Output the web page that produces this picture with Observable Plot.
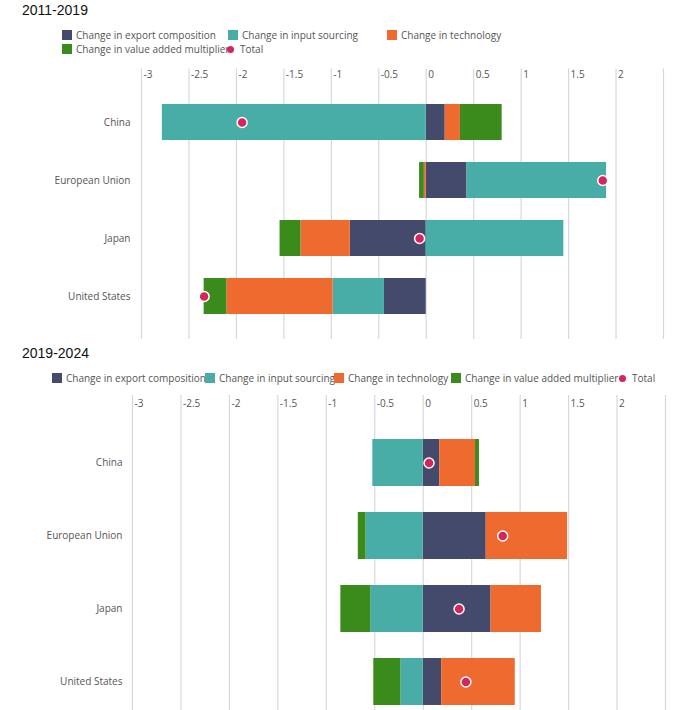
<!DOCTYPE html>
<html><head><meta charset="utf-8">
<script src="https://cdn.jsdelivr.net/npm/d3@7"></script>
<script src="https://cdn.jsdelivr.net/npm/@observablehq/plot@0.6"></script>
<style>
body{margin:0;overflow:hidden;font-family:"Open Sans",Arial,sans-serif;background:#fff;width:693px;height:710px;position:relative}
.title{position:absolute;left:22px;font:14px Arial,"Liberation Sans",sans-serif;color:#111}
.leg{position:absolute;font-size:10px;color:#555;white-space:nowrap}
.leg span.it{position:absolute;display:flex;align-items:center}
.sw{display:inline-block;width:10px;height:10px;margin-right:4px}
.dot{display:inline-block;width:7px;height:7px;border-radius:50%;background:#d6245c;margin:0 6px 0 2px}
.chart{position:absolute;left:0}
</style></head><body>
<div class="title" style="top:2px">2011-2019</div>
<div class="leg" id="leg1" style="top:28px;left:0"></div>
<div class="chart" id="c1" style="top:62px"></div>
<div class="title" style="top:345px">2019-2024</div>
<div class="leg" id="leg2" style="top:371px;left:0"></div>
<div class="chart" id="c2" style="top:388px"></div>
<script>
const countries = ["China","European Union","Japan","United States"];
const components = ["Change in export composition","Change in input sourcing","Change in technology","Change in value added multiplier"];
const colors = ["#434a6b","#48ada6","#ef6a2f","#3a8a1c"];
const totalColor = "#d6245c";
const ticks = [-3,-2.5,-2,-1.5,-1,-0.5,0,0.5,1,1.5,2];
const grid = [...ticks, 2.5];
// values per country in component order
const p1 = {
  export: [0.20, 0.43, -0.80, -0.44],
  input: [-2.78, 1.47, 1.45, -0.54],
  tech: [0.16, -0.02, -0.52, -1.12],
  va: [0.44, -0.05, -0.22, -0.24],
  total: [-1.94, 1.86, -0.07, -2.34]
};
const p2 = {
  export: [0.17, 0.65, 0.70, 0.19],
  input: [-0.52, -0.59, -0.54, -0.23],
  tech: [0.37, 0.84, 0.52, 0.76],
  va: [0.04, -0.08, -0.31, -0.28],
  total: [0.06, 0.82, 0.37, 0.44]
};
function rows(p){
  const out=[];
  const keys=["export","input","tech","va"];
  countries.forEach((c,i)=>keys.forEach((k,j)=>out.push({country:c,comp:components[j],value:p[k][i]})));
  return out;
}
function chart(p,o){
  return Plot.plot({
    width:693, height:o.height, marginLeft:o.ml, marginRight:o.mr, marginTop:o.yr[0], marginBottom:o.height-o.yr[1],
    style:{fontFamily:"'Open Sans',Arial,sans-serif",fontSize:"10px",color:"#555"},
    x:{domain:[-3,2.5]},
    y:{domain:countries, padding:o.pad, range:o.yr},
    color:{domain:components, range:colors},
    marks:[
      Plot.ruleX(grid,{stroke:"#d5d8e0",strokeWidth:1.2,insetTop:o.gridTop,insetBottom:o.gridBottom}),
      Plot.axisX({anchor:"top",ticks:ticks,tickSize:0,tickPadding:o.tp,textAnchor:"start",dx:2,label:null,tickFormat:d=>String(d)}),
      Plot.axisY({tickSize:0,tickPadding:o.ypad,label:null}),
      Plot.barX(rows(p),Plot.stackX({y:"country",x:"value",fill:"comp"})),
      Plot.dot(countries.map((c,i)=>({country:c,t:p.total[i]})),{x:"t",y:"country",r:5,fill:totalColor,stroke:"#fff",strokeWidth:1.5})
    ]
  });
}
document.getElementById("c1").append(chart(p1,{height:280,ml:141,mr:30,yr:[18.5,275],pad:0.385,gridTop:-12,gridBottom:-2,tp:3,ypad:11}));
document.getElementById("c2").append(chart(p2,{height:322,ml:132,mr:28,yr:[24,344],pad:0.35,gridTop:-17,gridBottom:0,tp:6,ypad:10}));
function legend(el,items){
  items.forEach(([i,x,y])=>{
    const s=document.createElement("span");s.className="it";s.style.left=x+"px";s.style.top=y+"px";
    if(i<4) s.innerHTML=`<span class="sw" style="background:${colors[i]}"></span>${components[i]}`;
    else s.innerHTML=`<span class="dot"></span>Total`;
    el.append(s);
  });
}
legend(document.getElementById("leg1"),[[0,62,0],[1,228,0],[2,387,0],[3,62,14],[4,225,14]]);
legend(document.getElementById("leg2"),[[0,52,0],[1,205,0],[2,334,0],[3,451,0],[4,617,0]]);
</script></body></html>
